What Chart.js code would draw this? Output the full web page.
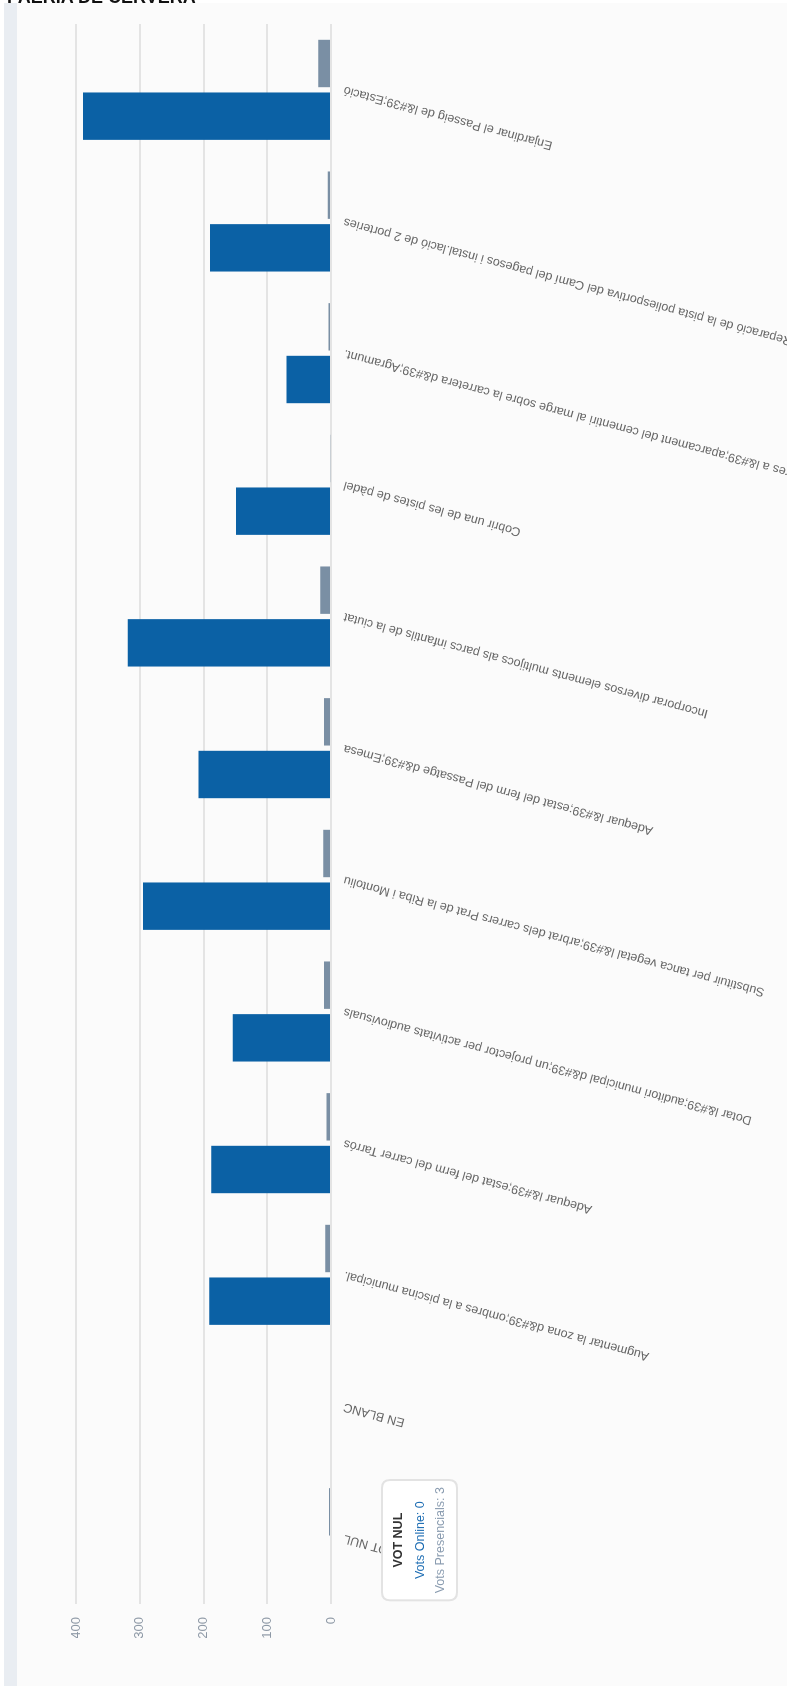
<!DOCTYPE html>
<html><head><meta charset="utf-8">
<script src="https://cdn.jsdelivr.net/npm/chart.js@4.4.1/dist/chart.umd.min.js"></script>
<style>
html,body{margin:0;padding:0;background:#fff;width:787px;height:1686px;overflow:hidden;position:relative;}
#strip{position:absolute;left:4px;top:3px;width:13px;height:1683px;background:#e9edf2;}
#card{position:absolute;left:17px;top:3px;width:770px;height:1683px;background:#fbfbfb;}
#title{position:absolute;left:7px;top:-12px;font:bold 18px 'Liberation Sans',Arial,sans-serif;line-height:18px;color:#111;z-index:3;white-space:nowrap;}
#wrap{position:absolute;left:0;top:0;width:1683px;height:770px;transform-origin:0 0;transform:translate(17px,1686px) rotate(-90deg);z-index:2;}
canvas{display:block;}
</style></head>
<body>
<div id="strip"></div><div id="card"></div><div id="title">PAERIA DE CERVERA</div>
<div id="wrap"><canvas id="c" width="1683" height="770" style="width:1683px;height:770px"></canvas></div>
<script>
// Categories in chart order (first = VOT NUL)
const categories = [
  "VOT NUL",
  "EN BLANC",
  "Augmentar la zona d&#39;ombres a la piscina municipal.",
  "Adequar l&#39;estat del ferm del carrer Tarrós",
  "Dotar l&#39;auditori municipal d&#39;un projector per activitats audiovisuals",
  "Substituir per tanca vegetal l&#39;arbrat dels carrers Prat de la Riba i Montoliu",
  "Adequar l&#39;estat del ferm del Passatge d&#39;Emesa",
  "Incorporar diversos elements multijocs als parcs infantils de la ciutat",
  "Cobrir una de les pistes de pàdel",
  "Plantar arbres a l&#39;aparcament del cementiri al marge sobre la carretera d&#39;Agramunt.",
  "Reparació de la pista poliesportiva del Camí del pagesos i instal.lació de 2 porteries",
  "Enjardinar el Passeig de l&#39;Estació"
];
const votsOnline      = [0, 0, 191, 188, 154, 295, 208, 319, 149, 70, 190, 389];
const votsPresencials = [3, 0,   9,   7,  11,  12,  11,  17,   1,  4,   5,  20];
const seriesNames = ["Vots Online", "Vots Presencials"];
const valueTicks = [0, 100, 200, 300, 400];

const BLUE = '#0b61a5', GRAY = '#7a8fa4';
const FONT = "'Liberation Sans', Arial, sans-serif";

const TooltipPlugin = Chart.Tooltip || Chart.registry.plugins.get('tooltip');
TooltipPlugin.positioners.belowAxis = function(items) {
  if (!items.length) return false;
  let x = 0;
  items.forEach(it => { x += it.element.x; });
  x /= items.length;
  return { x: x - 2, y: this.chart.chartArea.bottom + 51 };
};

const chart = new Chart(document.getElementById('c'), {
  type: 'bar',
  data: {
    labels: categories,
    datasets: [
      { label: seriesNames[0], data: votsOnline, backgroundColor: BLUE, hoverBackgroundColor: BLUE, borderWidth: 0 },
      { label: seriesNames[1], data: votsPresencials, backgroundColor: GRAY, hoverBackgroundColor: GRAY, borderWidth: 0 }
    ]
  },
  options: {
    responsive: false,
    animation: false,
    events: [],
    layout: { padding: { left: 48, right: 21, top: 59, bottom: 0 } },
    plugins: {
      legend: { display: false },
      title: { display: false },
      tooltip: {
        enabled: true,
        mode: 'index',
        intersect: false,
        position: 'belowAxis',
        xAlign: 'center',
        yAlign: 'top',
        caretSize: 0,
        caretPadding: 0,
        backgroundColor: '#ffffff',
        borderColor: '#e3e3e3',
        borderWidth: 2,
        cornerRadius: 8,
        displayColors: false,
        titleColor: '#333',
        titleFont: { family: FONT, size: 12.5, weight: 'bold' },
        titleAlign: 'center',
        titleMarginBottom: 7,
        bodyFont: { family: FONT, size: 12.5 },
        bodyAlign: 'center',
        bodySpacing: 5,
        padding: { top: 9, bottom: 9, left: 7, right: 7 },
        callbacks: {
          labelTextColor: (ctx) => ctx.datasetIndex === 0 ? '#1d6db3' : '#8a9cb0'
        }
      }
    },
    scales: {
      x: {
        grid: { display: false, drawTicks: false },
        border: { display: false },
        ticks: {
          autoSkip: false,
          minRotation: 75,
          maxRotation: 75,
          padding: 11,
          color: '#666',
          font: { family: FONT, size: 12.5 }
        },
        afterFit: (s) => { s.height = 456; }
      },
      y: {
        min: valueTicks[0],
        max: valueTicks[valueTicks.length - 1],
        grid: { color: '#e4e4e4', lineWidth: 2, drawTicks: false },
        border: { display: false },
        ticks: {
          stepSize: valueTicks[1] - valueTicks[0],
          padding: 13,
          color: '#8e99a6',
          font: { family: FONT, size: 13 }
        },
        afterFit: (s) => { s.width = 34; }
      }
    }
  }
});

chart.tooltip.setActiveElements([
  { datasetIndex: 0, index: 0 },
  { datasetIndex: 1, index: 0 }
], { x: 0, y: 0 });
chart.update();
</script>
</body></html>
